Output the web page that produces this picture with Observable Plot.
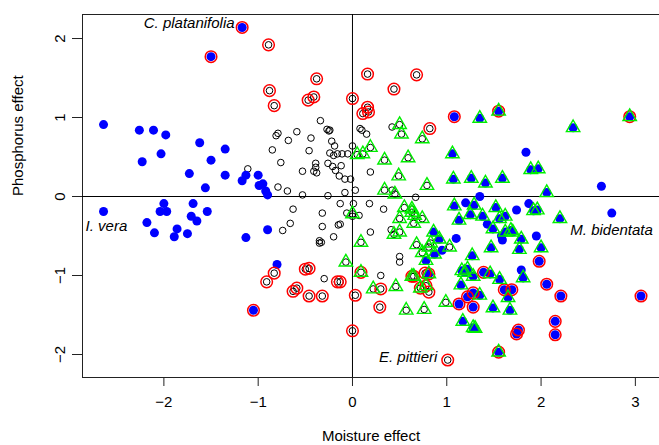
<!DOCTYPE html>
<html>
<head>
<meta charset="utf-8">
<script src="https://cdn.jsdelivr.net/npm/d3@7"></script>
<script src="https://cdn.jsdelivr.net/npm/@observablehq/plot@0.6"></script>
<style>
  html, body { margin: 0; padding: 0; background: white; }
  #chart { width: 659px; height: 445px; overflow: hidden; }
</style>
</head>
<body>
<div id="chart"></div>
<script>
// Species effects: x = moisture effect, y = phosphorus effect
// sig codes: k = none (open black), b = moisture (blue), r = phosphorus (red ring), g = interaction (green triangle)
const moisture = [
  -2.64,-2.26,-2.11,-1.98,-1.62,-1.35,-2.03,-2.23,-1.50,-1.73,-1.35,-1.13,-1.17,-1.00,-1.56,-0.99,-0.95,-0.92,-0.90,
  -2.64,-2.00,-2.04,-1.97,-1.69,-1.54,-1.71,-1.65,-2.18,-2.10,-1.86,-1.89,-1.75,-1.13,-0.90,-0.80,
  -1.17,-1.50,-1.05,
  -0.89,-0.88,-0.83,-0.38,-0.47,-0.41,0.00,0.16,0.11,0.17,0.16,0.68,0.44,0.82,
  -0.83,-0.91,-0.50,-0.46,-0.16,-0.63,-0.59,-0.46,-0.32,0.03,0.00,-0.13,0.30,0.29,0.81,0.77,1.01,
  0.09,0.63,0.65,0.72,0.78,
  -0.34,-0.27,-0.25,-0.24,-0.79,-0.81,-0.59,-0.68,-0.44,-0.22,-0.19,0.00,-0.85,-0.46,-0.24,-0.20,-0.16,-0.11,-0.05,
  -0.76,-0.39,-0.39,-0.41,-0.38,-0.26,-0.21,-0.12,-0.18,-0.14,-0.08,-0.02,-0.53,-1.11,-0.79,-0.69,-0.53,-0.26,-0.08,0.03,
  -0.13,0.01,-0.63,0.42,0.08,0.10,0.15,0.19,0.42,0.67,0.18,0.33,-0.06,0.00,0.07,-0.13,0.19,0.41,0.50,0.50,
  -0.32,-0.66,-0.74,-0.32,-0.15,-0.20,-0.35,-0.33,-0.35,-0.30,0.30,
  0.05,0.11,0.50,0.52,0.74,0.19,0.34,0.59,0.49,0.79,0.34,0.45,0.55,0.63,0.63,0.66,0.74,0.65,0.00,0.50,
  0.44,0.50,0.09,0.68,0.83,0.81,0.74,1.03,-0.07,0.22,0.46,0.57,0.76,0.99,
  1.35,2.34,1.06,1.89,1.97,1.07,1.26,1.41,1.59,2.06,1.29,1.52,1.92,1.96,2.20,1.25,1.38,1.13,1.56,1.62,
  1.49,1.62,1.68,1.70,1.79,0.92,1.47,1.27,1.77,2.00,0.86,0.87,0.78,1.15,1.16,1.19,1.22,1.28,1.46,1.56,
  1.81,1.65,1.35,1.49,1.67,1.17,1.28,1.30,1.08,
  1.55,2.94,1.55,0.81,
  1.84,2.64,1.35,2.75,1.20,1.74,1.87,1.43,1.58,1.59,1.95,1.10,0.95,1.79,
  1.08,3.06,2.21,2.06,1.98,2.15,2.15,1.76,1.74,1.39,1.61,1.69,1.22,1.28,1.13,1.28
];
const phosphorus = [
  0.91,0.84,0.84,0.78,0.68,0.60,0.54,0.44,0.46,0.29,0.27,0.27,0.20,0.27,0.11,0.14,0.16,0.07,0.02,
  -0.19,-0.09,-0.19,-0.19,-0.09,-0.19,-0.25,-0.31,-0.33,-0.46,-0.41,-0.51,-0.47,-0.52,-0.42,-0.86,
  2.14,1.77,-1.44,
  1.92,1.34,1.15,1.49,1.22,1.26,1.24,1.13,1.05,1.07,1.55,1.54,1.36,0.86,
  -0.97,-1.08,-0.92,-0.91,-1.08,-1.20,-1.16,-1.26,-1.26,-1.25,-1.70,-1.08,-1.17,-1.40,-1.21,-0.97,-2.07,
  -0.96,-1.01,-1.01,-1.16,-1.13,
  0.96,0.85,0.83,0.84,0.80,0.77,0.82,0.71,0.74,0.70,0.64,0.64,0.59,0.58,0.55,0.52,0.54,0.54,0.54,
  0.43,0.42,0.37,0.32,0.30,0.42,0.38,0.39,0.33,0.26,0.22,0.22,0.32,0.35,0.12,0.07,0.02,0.01,0.05,0.08,
  -0.09,-0.09,-0.16,0.88,0.86,0.84,0.79,0.31,0.08,-0.01,-0.09,-0.16,-0.21,-0.25,-0.24,-0.35,-0.45,-0.42,-0.76,-0.83,
  -0.21,-0.34,-0.43,-0.38,-0.36,-0.51,-0.56,-0.58,-0.59,-1.04,-1.00,
  0.53,0.54,0.91,0.79,0.73,0.62,0.46,0.49,0.26,0.14,0.08,0.03,-0.14,-0.16,-0.20,-0.24,-0.28,-0.34,-0.22,-0.28,
  -0.48,-0.45,-0.58,-0.61,-0.59,-0.64,-0.71,-0.64,-0.83,-1.17,-1.14,-1.44,-1.43,-1.34,
  0.99,0.87,0.54,0.34,0.35,0.22,0.23,0.17,0.23,0.05,-0.11,-0.14,-0.18,-0.17,-0.28,-0.23,-0.25,-0.30,-0.28,-0.25,
  -0.41,-0.45,-0.43,-0.45,-0.54,-0.54,-0.65,-0.75,-0.67,-0.65,-0.45,-0.73,-0.81,-1.12,-0.94,-0.96,-0.92,-1.01,-0.98,-1.05,
  -1.03,-1.28,-1.25,-1.41,-1.44,-1.58,-1.66,-1.67,-0.12,
  1.08,1.01,-1.97,-0.98,
  0.56,0.13,0.00,-0.21,-0.08,-0.17,-0.09,-0.35,-0.50,-0.55,-0.50,-0.53,-0.68,-0.93,
  1.01,-1.26,-1.26,-1.11,-0.82,-1.58,-1.75,-1.69,-1.74,-0.96,-1.18,-1.18,-1.27,-1.22,-1.36,-1.40
];
const sig = [
  ...Array(35).fill("b"),
  ...Array(3).fill("br"),
  ...Array(14).fill("kr"),
  ...Array(17).fill("kr"),
  ...Array(5).fill("kgr"),
  ...Array(70).fill("k"),
  ...Array(34).fill("kg"),
  ...Array(49).fill("bg"),
  ...Array(4).fill("bgr"),
  ...Array(14).fill("b"),
  ...Array(16).fill("br")
];
const xTicks = [-2, -1, 0, 1, 2, 3];
const yTicks = [-2, -1, 0, 1, 2];
const labelNames = ["C. platanifolia", "I. vera", "M. bidentata", "E. pittieri"];
const labelX = [-1.25, -2.83, 2.31, 0.90];
const labelY = [2.19, -0.37, -0.42, -2.04];
const labelAnchor = ["end", "start", "start", "end"];

const data = moisture.map((x, i) => ({x, y: phosphorus[i], s: sig[i]}));
const labels = labelNames.map((t, i) => ({t, x: labelX[i], y: labelY[i], a: labelAnchor[i]}));
const fmt = d => (d < 0 ? "\u2212" : "") + Math.abs(d);

const xDom = [-2.863, 3.256];
const yDom = [-2.291, 2.304];
const FS = 15;

const chart = Plot.plot({
  width: 659,
  height: 445,
  marginLeft: 82,
  marginRight: 0,
  marginTop: 14,
  marginBottom: 68,
  x: {domain: xDom},
  y: {domain: yDom},
  style: {fontFamily: "'Liberation Sans', Arial, Helvetica, sans-serif", fontSize: FS + "px", background: "white", color: "black"},
  marks: [
    // frame (left, top, bottom)
    Plot.ruleX([xDom[0]], {stroke: "#222", strokeWidth: 1}),
    Plot.ruleY([yDom[1], yDom[0]], {stroke: "#222", strokeWidth: 1}),
    // reference lines
    Plot.ruleX([0], {stroke: "black", strokeWidth: 1}),
    Plot.ruleY([0], {stroke: "black", strokeWidth: 1}),
    Plot.axisX({ticks: xTicks, tickSize: 9, tickPadding: 10, tickFormat: fmt, label: null, stroke: "#222", fontSize: FS}),
    Plot.axisY({ticks: yTicks, tickSize: 10, tickPadding: 8, tickRotate: -90, tickFormat: fmt, label: null, stroke: "#222", fontSize: FS}),
    Plot.text(["Moisture effect"], {frameAnchor: "bottom", dy: 63, text: d => d, fontSize: FS}),
    Plot.text(["Phosphorus effect"], {frameAnchor: "left", dx: -64, rotate: -90, text: d => d, fontSize: FS}),
    // black open circles for every species
    Plot.dot(data, {x: "x", y: "y", r: 3.3, stroke: "black", strokeWidth: 1, fill: "none"}),
    // moisture-significant: blue filled
    Plot.dot(data.filter(d => d.s.includes("b")), {x: "x", y: "y", r: 4.5, fill: "#0000ff", stroke: "none"}),
    // phosphorus-significant: red rings
    Plot.dot(data.filter(d => d.s.includes("r")), {x: "x", y: "y", r: 5.8, stroke: "#ff0000", strokeWidth: 1.5, fill: "none"}),
    // interaction: green triangles
    Plot.dot(data.filter(d => d.s.includes("g")), {x: "x", y: "y", r: 5, symbol: "triangle", stroke: "#00ee00", strokeWidth: 1.4, fill: "none"}),
    Plot.text(labels.filter(d => d.a === "end"), {x: "x", y: "y", text: "t", textAnchor: "end", fontStyle: "italic", fontSize: FS}),
    Plot.text(labels.filter(d => d.a === "start"), {x: "x", y: "y", text: "t", textAnchor: "start", fontStyle: "italic", fontSize: FS})
  ]
});
document.getElementById("chart").appendChild(chart);
</script>
</body>
</html>
